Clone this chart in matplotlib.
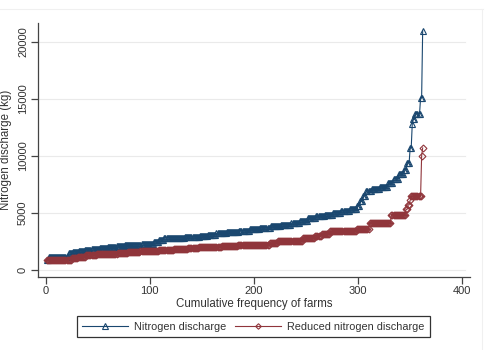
import numpy as np
import matplotlib
matplotlib.use("Agg")
import matplotlib.pyplot as plt
from matplotlib.lines import Line2D

plt.rcParams["font.family"] = ["Liberation Sans", "DejaVu Sans"]

# ---------------------------------------------------------------------------
# Data: sorted farm discharges (kg), stored as (level, number of farms) runs
# ---------------------------------------------------------------------------
n_levels = [850, 1150, 1480, 1560, 1650, 1730, 1820, 1900, 1980, 2060, 2130,
            2200, 2280, 2450, 2620, 2820, 2870, 2950, 3080, 3200, 3300, 3420,
            3550, 3680, 3820, 3950, 4100, 4300, 4500, 4680, 4850, 5000, 5150,
            5350, 5600, 6000, 6500, 6900, 7050, 7250, 7600, 8000, 8400, 8800,
            9400, 10700, 12800, 13200, 13700, 15100, 21000]
n_counts = [2, 19, 4, 6, 6, 6, 8, 8, 8, 8, 8,
            8, 12, 5, 5, 20, 14, 8, 8, 10, 12, 10,
            10, 10, 10, 10, 8, 8, 8, 8, 8, 8, 8,
            7, 3, 3, 3, 5, 8, 8, 5, 5, 5, 3,
            3, 2, 1, 2, 5, 2, 1]

r_levels = [850, 1050, 1150, 1250, 1340, 1420, 1500, 1580, 1660, 1720, 1800,
            1900, 1980, 2080, 2200, 2350, 2550, 2830, 3000, 3150, 3370, 3620,
            4120, 4850, 5300, 5700, 6100, 6450, 10000, 10700]
r_counts = [24, 6, 8, 10, 10, 10, 10, 12, 18, 14, 14,
            10, 22, 16, 30, 8, 24, 12, 6, 8, 26, 12,
            21, 14, 2, 2, 1, 10, 1, 1]

nitrogen = np.repeat(n_levels, n_counts)
reduced = np.repeat(r_levels, r_counts)
farms_n = np.arange(1, len(nitrogen) + 1)
farms_r = np.arange(1, len(reduced) + 1)

BLUE = "#1a476f"
RED = "#90353b"

# ---------------------------------------------------------------------------
# Plot
# ---------------------------------------------------------------------------
fig = plt.figure(figsize=(4.87, 3.5), dpi=100)
ax = fig.add_axes([0.0774, 0.2094, 0.888, 0.725])

ax.plot(farms_n, nitrogen, color=BLUE, lw=0.8, marker="^", ms=4.6,
        mfc="none", mec=BLUE, mew=0.8, label="Nitrogen discharge")
ax.plot(farms_r, reduced, color=RED, lw=0.8, marker="D", ms=3.5,
        mfc="none", mec=RED, mew=0.8, label="Reduced nitrogen discharge")

ax.set_xlim(-7.7, 407.6)
ax.set_ylim(-615, 21680)
ax.set_xticks([0, 100, 200, 300, 400])
ax.set_yticks([0, 5000, 10000, 15000, 20000])
for yv in [0, 5000, 10000, 15000, 20000]:
    ax.plot([-7.7, 403], [yv, yv], color="#eaeaea", lw=0.8, zorder=0)

for side in ["top", "right"]:
    ax.spines[side].set_visible(False)
for side in ["left", "bottom"]:
    ax.spines[side].set_color("#444444")
    ax.spines[side].set_linewidth(0.9)

ax.tick_params(axis="both", length=5, width=0.9, color="#444444",
               labelsize=8, labelcolor="#333333", pad=2)
plt.setp(ax.get_yticklabels(), rotation=90, va="center")

ax.set_xlabel("Cumulative frequency of farms", fontsize=8.3, color="#333333",
              labelpad=1)
ax.set_ylabel("Nitrogen discharge (kg)", fontsize=8.3, color="#333333",
              labelpad=4)

leg = fig.legend(loc="center", bbox_to_anchor=(0.5205, 0.067), ncol=2,
                 fontsize=7.8, frameon=True, fancybox=False, handlelength=4.2,
                 handletextpad=0.6, columnspacing=0.8, borderpad=0.5,
                 markerscale=0.8)
leg.get_frame().set_edgecolor("black")
leg.get_frame().set_linewidth(0.9)
for t in leg.get_texts():
    t.set_color("#333333")

# faint outer graph-region border
fig.add_artist(Line2D([0, 483 / 487], [1 - 9.3 / 350, 1 - 9.3 / 350],
                      transform=fig.transFigure, color="#f0f0f0", lw=0.8))
fig.add_artist(Line2D([482 / 487, 482 / 487], [0, 1 - 9.3 / 350],
                      transform=fig.transFigure, color="#f0f0f0", lw=0.8))

fig.savefig("out.png", dpi=100)
